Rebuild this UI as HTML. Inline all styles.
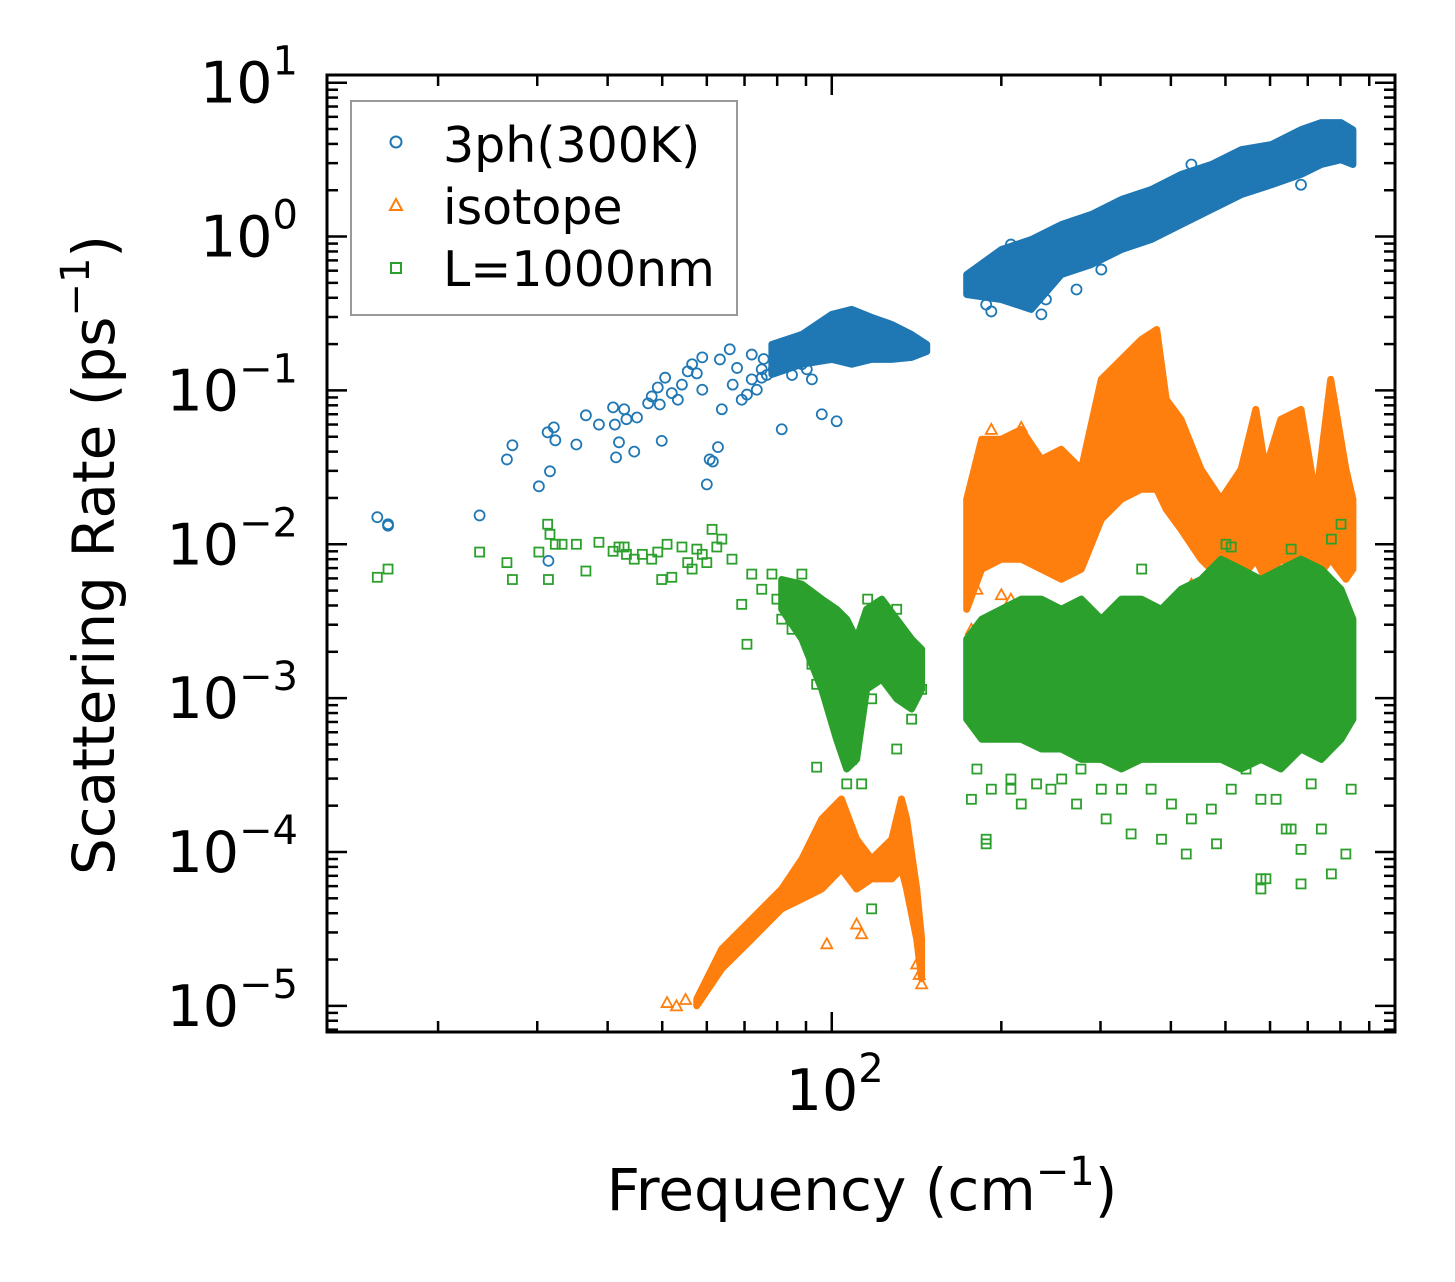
<!DOCTYPE html>
<html><head><meta charset="utf-8"><style>
html,body{margin:0;padding:0;background:#fff;}
svg{display:block;font-family:"DejaVu Sans","Liberation Sans",sans-serif;}
</style></head><body>
<svg id="chart" width="1455" height="1282" viewBox="0 0 1455 1282" xmlns="http://www.w3.org/2000/svg">
<g id="data-layer"></g>
<g id="axes-layer"></g>
<g>
<rect x="351" y="101" width="386" height="214" fill="#fff" fill-opacity="0.8" stroke="#999" stroke-width="2"/>
<circle cx="396" cy="142" r="5.5" fill="none" stroke="#1f77b4" stroke-width="2"/>
<text x="443" y="162" font-size="49">3ph(300K)</text>
<path d="M396,199 L402,210 L390,210 Z" fill="none" stroke="#ff7f0e" stroke-width="2"/>
<text x="443" y="224" font-size="49">isotope</text>
<rect x="391" y="263" width="10" height="10" fill="none" stroke="#2ca02c" stroke-width="2"/>
<text x="443" y="286" font-size="49">L=1000nm</text>
</g>
<text x="862" y="1210" font-size="58" text-anchor="middle">Frequency (cm<tspan font-size="40" dy="-25">−1</tspan><tspan dy="25">)</tspan></text>
<text transform="translate(114,555) rotate(-90)" font-size="58" text-anchor="middle">Scattering Rate (ps<tspan font-size="40" dy="-25">−1</tspan><tspan dy="25">)</tspan></text>
</svg>
<script>
// axis ranges
var xMin = 12.7, xMax = 1000, yMinExp = -5.17, yMaxExp = 1.05;
var X0 = 327, X1 = 1395, Y0 = 75, Y1 = 1032;
function xs(f){ return X0 + (Math.log10(f) - Math.log10(xMin)) / (Math.log10(xMax) - Math.log10(xMin)) * (X1 - X0); }
function ys(r){ return Y1 - (Math.log10(r) - yMinExp) / (yMaxExp - yMinExp) * (Y1 - Y0); }

var yTickExps = [1, 0, -1, -2, -3, -4, -5];
var yTickLabels = ["1", "0", "−1", "−2", "−3", "−4", "−5"];
var xTickValues = [100];
var xTickLabels = ["2"];

// ---- 3ph (300K) ----
var bandBlue1Freq = [78.3, 88.5, 100, 108.5, 117.7, 127.8, 138.6, 147.4];
var bandBlue1Hi = [0.199, 0.231, 0.312, 0.336, 0.298, 0.268, 0.231, 0.199];
var bandBlue1Lo = [0.127, 0.148, 0.159, 0.148, 0.159, 0.159, 0.164, 0.179];
var bandBlue2Freq = [173.6, 200, 226, 255.6, 289, 326.7, 369, 417, 472, 533, 603, 681, 740, 802, 842];
var bandBlue2Hi = [0.566, 0.823, 0.956, 1.196, 1.39, 1.74, 2.02, 2.53, 2.94, 3.67, 3.96, 4.95, 5.5, 5.5, 4.95];
var bandBlue2Lo = [0.42, 0.39, 0.336, 0.566, 0.658, 0.823, 0.956, 1.196, 1.5, 1.87, 2.17, 2.53, 2.94, 3.16, 2.94];
var blueFreq = [15.6,16.3,16.3,23.7,26.5,27.1,30.2,31.3,32.1,31.6,32.3,31.4,35.2,36.6,38.6,40.9,41.2,41.4,41.9,42.8,43.2,44.6,45.1,47.2,47.9,49.1,49.5,49.9,50.6,52,53.3,54.2,55.5,56.5,57.6,58.9,60,60.7,61.5,62.8,63.8,66.7,69.2,70.7,72.1,73.6,75.1,76.7,78.9,81.5,83.2,85,88.5,90.3,92.2,96,102,108.5,109,116.8,80.9,85,104,72.1,65.9,75.1,58.9,63.3,67.9,75.7,79.9,177,188,192,235.6,240,272,208,301,681,435];
var blueRate = [0.015,0.0135,0.0132,0.0154,0.0356,0.044,0.0238,0.0534,0.0575,0.0298,0.0474,0.0078,0.0445,0.0689,0.060,0.0776,0.060,0.0367,0.046,0.0754,0.065,0.040,0.0667,0.0824,0.0914,0.1045,0.081,0.047,0.121,0.096,0.087,0.109,0.133,0.148,0.129,0.101,0.0245,0.0356,0.0345,0.0428,0.0754,0.109,0.087,0.094,0.118,0.101,0.121,0.126,0.137,0.0559,0.159,0.126,0.148,0.137,0.118,0.070,0.063,0.281,0.249,0.256,0.171,0.159,0.199,0.171,0.185,0.137,0.164,0.159,0.14,0.16,0.17,0.45,0.361,0.326,0.312,0.39,0.453,0.887,0.61,2.17,2.94];

// ---- isotope ----
var bandOrange1Freq = [57.6, 63.8, 72.1, 81.5, 88.5, 96, 104, 110.7, 117.7, 127.8, 133, 135.8, 141.5, 144.4];
var bandOrange1Hi = [1.11e-5, 2.34e-5, 3.67e-5, 5.75e-5, 9.0e-5, 1.64e-4, 2.21e-4, 1.21e-4, 9.0e-5, 1.21e-4, 2.21e-4, 1.64e-4, 5.75e-5, 2.72e-5];
var bandOrange1Lo = [1.0e-5, 1.74e-5, 2.72e-5, 4.27e-5, 4.95e-5, 5.75e-5, 7.76e-5, 5.75e-5, 6.68e-5, 6.68e-5, 7.76e-5, 5.75e-5, 2.72e-5, 1.5e-5];
var bandOrange2Freq = [173.6,184.6,200,217,235.6,255.6,277.4,301,326.7,354.5,377.5,392.5,417,452.5,491,533,566,589,627,681,724,769,818,842];
var bandOrange2Hi = [0.0196,0.0481,0.0481,0.0558,0.0356,0.0414,0.0307,0.118,0.159,0.214,0.249,0.0875,0.0648,0.0307,0.0196,0.0307,0.0753,0.0307,0.0648,0.0753,0.0196,0.118,0.0307,0.0196];
var bandOrange2Lo = [0.00378,0.00689,0.008,0.008,0.00689,0.00593,0.00689,0.0145,0.0196,0.0228,0.0228,0.0169,0.0125,0.008,0.00593,0.00593,0.008,0.00593,0.008,0.00689,0.00593,0.008,0.00593,0.00689];
var orangeFreq = [51,53,55,98,113,110.7,141.5,143,144.4,177,181,200,208,435,802,654,192,217,771];
var orangeRate = [1.05e-5,1.0e-5,1.1e-5,2.53e-5,2.94e-5,3.4e-5,1.87e-5,1.6e-5,1.39e-5,2.8e-3,5.1e-3,4.7e-3,4.4e-3,5.5e-3,4.4e-3,4.7e-3,0.0558,0.0575,0.094];

// ---- L=1000nm ----
var bandGreen1Freq = [81.5, 88.5, 96, 102, 106.3, 110.7, 115.3, 122.7, 130.4, 138.6, 144.4];
var bandGreen1Hi = [5.9e-3, 5.5e-3, 4.4e-3, 3.78e-3, 3.26e-3, 2.42e-3, 3.78e-3, 4.4e-3, 3.26e-3, 2.42e-3, 2.08e-3];
var bandGreen1Lo = [3.78e-3, 2.42e-3, 1.14e-3, 5.4e-4, 3.46e-4, 4.0e-4, 1.14e-3, 1.33e-3, 9.9e-4, 8.5e-4, 1.14e-3];
var bandGreen2Freq = [173.6,184.6,200,217,235.6,255.6,277.4,301,326.7,354.5,384.5,417,452.5,491,533,578,627,681,740,802,842];
var bandGreen2Hi = [2.42e-3,3.26e-3,3.78e-3,4.4e-3,4.4e-3,3.78e-3,4.4e-3,3.26e-3,4.4e-3,4.4e-3,3.78e-3,5.1e-3,5.9e-3,8.0e-3,6.9e-3,5.9e-3,6.9e-3,8.0e-3,6.9e-3,5.1e-3,3.26e-3];
var bandGreen2Lo = [7.3e-4,5.4e-4,5.4e-4,5.4e-4,4.67e-4,4.67e-4,4.0e-4,4.0e-4,3.46e-4,4.0e-4,4.0e-4,4.0e-4,4.0e-4,4.0e-4,3.46e-4,4.0e-4,3.46e-4,4.67e-4,4.0e-4,5.4e-4,7.3e-4];
var greenFreq = [15.6,16.3,23.7,26.5,27.1,30.2,31.3,31.6,31.4,32.3,33.2,35.2,36.6,38.6,40.9,41.9,42.8,43.2,44.6,46.1,47.9,49.1,49.9,51,52,54.2,55.5,56.5,57.6,58.9,60,61.3,62.5,63.8,66.5,69.2,70.7,72.1,75.1,78.3,79.9,81.5,85,88.5,90.3,92.2,94,96,98,100,104,106.3,108.5,109,110.7,113,115.8,117.7,120.2,122.7,125.2,127.8,130.4,133,135.8,138.6,141.5,144.4,94,106.3,130.4,117.7,113,104,
177,181,188,192,208,217,231,245,256,272,277,301,307,327,340,369,385,401,426,435,472,482,512,544,578,590,615,641,654,681,710,740,771,818,836,578,578,681,188,208,355,501,512,771,802,654];
var greenRate = [6.1e-3,6.9e-3,8.9e-3,7.6e-3,5.9e-3,8.9e-3,1.35e-2,1.16e-2,5.9e-3,1.0e-2,1.0e-2,1.0e-2,6.7e-3,1.03e-2,9.0e-3,9.6e-3,9.6e-3,8.6e-3,8.0e-3,8.6e-3,8.0e-3,8.9e-3,5.9e-3,1.0e-2,6.1e-3,9.6e-3,7.6e-3,6.9e-3,9.3e-3,8.6e-3,7.6e-3,1.25e-2,9.6e-3,1.08e-2,8.0e-3,4.07e-3,2.24e-3,6.4e-3,5.1e-3,6.4e-3,4.4e-3,3.26e-3,2.8e-3,6.4e-3,4.07e-3,1.66e-3,1.23e-3,2.42e-3,1.14e-3,9.9e-4,8.5e-4,5.4e-4,4.0e-4,7.3e-4,1.33e-3,2.08e-3,4.4e-3,9.9e-4,3.0e-3,2.8e-3,1.33e-3,2.42e-3,3.78e-3,2.08e-3,9.9e-4,7.3e-4,1.79e-3,1.14e-3,3.56e-4,2.77e-4,4.67e-4,4.27e-5,2.77e-4,7.3e-4,
2.2e-4,3.46e-4,1.21e-4,2.56e-4,2.56e-4,2.05e-4,2.77e-4,2.56e-4,2.98e-4,2.05e-4,3.46e-4,2.56e-4,1.64e-4,2.56e-4,1.31e-4,2.56e-4,1.21e-4,2.05e-4,9.7e-5,1.64e-4,1.9e-4,1.13e-4,2.56e-4,3.46e-4,2.2e-4,6.7e-5,2.2e-4,1.41e-4,1.41e-4,1.04e-4,2.77e-4,1.41e-4,7.2e-5,9.7e-5,2.56e-4,6.7e-5,5.75e-5,6.2e-5,1.13e-4,2.98e-4,6.9e-3,1.0e-2,9.6e-3,1.08e-2,1.35e-2,9.3e-3];

var NS = "http://www.w3.org/2000/svg";
var dataLayer = document.getElementById('data-layer');
var axesLayer = document.getElementById('axes-layer');
function mk(tag, attrs, parent){
  var e = document.createElementNS(NS, tag);
  for (var k in attrs) e.setAttribute(k, attrs[k]);
  parent.appendChild(e);
  return e;
}
function band(freq, lo, hi, color, name){
  var pts = [];
  for (var i = 0; i < freq.length; i++) pts.push(xs(freq[i]).toFixed(1) + "," + ys(hi[i]).toFixed(1));
  for (var j = freq.length - 1; j >= 0; j--) pts.push(xs(freq[j]).toFixed(1) + "," + ys(lo[j]).toFixed(1));
  var p = mk('polygon', {points: pts.join(' '), fill: color, stroke: color, 'stroke-width': 7, 'stroke-linejoin': 'round'}, dataLayer);
  
  
}
function markers(freq, rate, shape, color, name){
  for (var i = 0; i < freq.length; i++){
    var cx = xs(freq[i]), cy = ys(rate[i]), e;
    if (shape === 'circle') e = mk('circle', {cx: cx, cy: cy, r: 5, fill: 'none', stroke: color, 'stroke-width': 1.8}, dataLayer);
    else if (shape === 'square') e = mk('rect', {x: cx - 4.5, y: cy - 4.5, width: 9, height: 9, fill: 'none', stroke: color, 'stroke-width': 1.8}, dataLayer);
    else e = mk('path', {d: 'M' + cx + ',' + (cy - 5.5) + ' l5.5,10 l-11,0 z', fill: 'none', stroke: color, 'stroke-width': 1.8}, dataLayer);
    
    
  }
}
band(bandBlue1Freq, bandBlue1Lo, bandBlue1Hi, '#1f77b4', '3ph-dense-band-low');
band(bandBlue2Freq, bandBlue2Lo, bandBlue2Hi, '#1f77b4', '3ph-dense-band-high');
markers(blueFreq, blueRate, 'circle', '#1f77b4', '3ph-point');
band(bandOrange1Freq, bandOrange1Lo, bandOrange1Hi, '#ff7f0e', 'isotope-dense-band-low');
band(bandOrange2Freq, bandOrange2Lo, bandOrange2Hi, '#ff7f0e', 'isotope-dense-band-high');
markers(orangeFreq, orangeRate, 'tri', '#ff7f0e', 'isotope-point');
band(bandGreen1Freq, bandGreen1Lo, bandGreen1Hi, '#2ca02c', 'boundary-dense-band-low');
band(bandGreen2Freq, bandGreen2Lo, bandGreen2Hi, '#2ca02c', 'boundary-dense-band-high');
markers(greenFreq, greenRate, 'square', '#2ca02c', 'boundary-point');

// axes frame
var frame = mk('rect', {x: X0, y: Y0, width: X1 - X0, height: Y1 - Y0, fill: 'none', stroke: '#000', 'stroke-width': 3}, axesLayer);


// y ticks
for (var e = -6; e <= 1; e++){
  for (var m = 1; m <= 9; m++){
    var v = m * Math.pow(10, e);
    var ly = Math.log10(v);
    if (ly < yMinExp || ly > yMaxExp) continue;
    var y = ys(v), len = (m === 1) ? 20 : 11;
    var t1 = mk('line', {x1: X0, x2: X0 + len, y1: y, y2: y, stroke: '#000', 'stroke-width': 2.5}, axesLayer);
    
    
    var t2 = mk('line', {x1: X1, x2: X1 - len, y1: y, y2: y, stroke: '#000', 'stroke-width': 2.5}, axesLayer);
    
    
  }
}
for (var i = 0; i < yTickExps.length; i++){
  var yy = ys(Math.pow(10, yTickExps[i]));
  var tx = mk('text', {x: 298, y: yy + 20, 'font-size': 57, 'text-anchor': 'end'}, axesLayer);
  
  
  tx.innerHTML = '10<tspan font-size="40" dy="-28">' + yTickLabels[i] + '</tspan>';
}
// x ticks
for (var d = 1; d <= 3; d++){
  for (var m2 = 1; m2 <= 9; m2++){
    var fv = m2 * Math.pow(10, d);
    if (fv < xMin || fv > xMax * 0.999) continue;
    var x = xs(fv), len2 = (m2 === 1) ? 20 : 11;
    var b = mk('line', {x1: x, x2: x, y1: Y1, y2: Y1 - len2, stroke: '#000', 'stroke-width': 2.5}, axesLayer);
    
    
    var tp = mk('line', {x1: x, x2: x, y1: Y0, y2: Y0 + len2, stroke: '#000', 'stroke-width': 2.5}, axesLayer);
    
    
  }
}
for (var k = 0; k < xTickValues.length; k++){
  var xl = mk('text', {x: xs(xTickValues[k]) + 3, y: 1110, 'font-size': 57, 'text-anchor': 'middle'}, axesLayer);
  
  
  xl.innerHTML = '10<tspan font-size="40" dy="-28">' + xTickLabels[k] + '</tspan>';
}
</script>
</body></html>
